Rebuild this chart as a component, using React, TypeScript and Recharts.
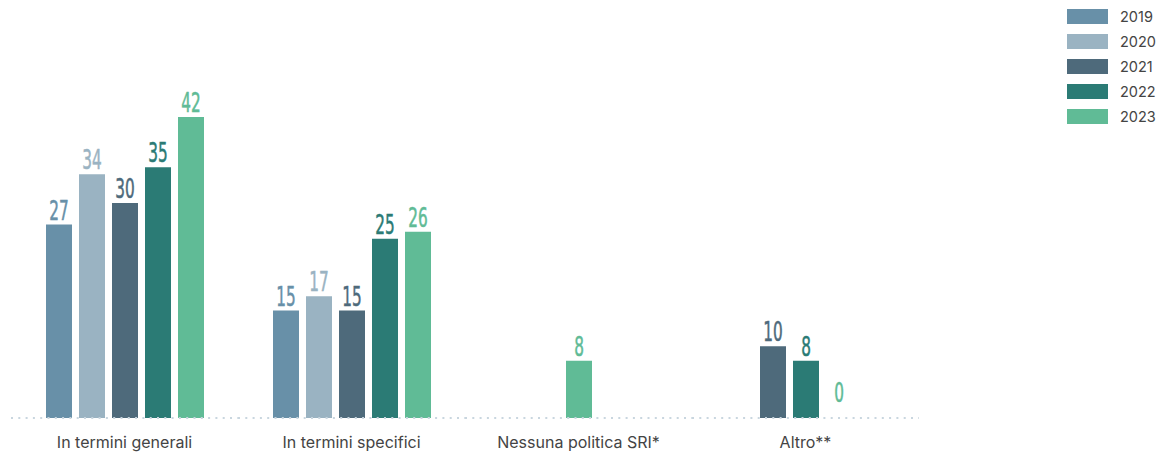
import { BarChart, Bar, XAxis, YAxis, LabelList } from 'recharts';

const categories = ['In termini generali', 'In termini specifici', 'Nessuna politica SRI*', 'Altro**'];
const years = ['2019', '2020', '2021', '2022', '2023'];

// null = no bar drawn for that year in that category
const values2019 = [27, 15, null, null];
const values2020 = [34, 17, null, null];
const values2021 = [30, 15, null, 10];
const values2022 = [35, 25, null, 8];
const values2023 = [42, 26, 8, 0];

const colors = ['#6890a8', '#9ab3c2', '#4e6a7b', '#2b7b75', '#60bb96'];

const series = years.map((year, i) => ({
  key: year,
  values: [values2019, values2020, values2021, values2022, values2023][i],
  color: colors[i],
}));

const maxValue = Math.max(...series.flatMap((s) => s.values.filter((v) => v !== null) as number[]));

const ValueLabel = (props: any) => {
  const { x, y, width, height, value, color } = props;
  const cx = Number(x) + Number(width) / 2;
  // zero bars get their label lifted a bit, like the original
  const lift = Math.abs(Number(height)) < 1 ? 16 : 5;
  return (
    <text
      transform={`translate(${cx} ${Number(y) - lift}) scale(0.63 1)`}
      textAnchor="middle"
      fill={color}
      stroke={color}
      strokeWidth={0.5}
      fontSize={27}
      fontFamily="'DejaVu Sans Condensed', 'Liberation Sans Narrow', sans-serif"
    >
      {value}
    </text>
  );
};

const GroupChart = ({ index }: { index: number }) => {
  const present = series.filter((s) => s.values[index] !== null);
  const row: Record<string, any> = { name: categories[index] };
  present.forEach((s) => {
    row[s.key] = s.values[index];
  });

  return (
    <BarChart
      width={227}
      height={455}
      data={[row]}
      margin={{ top: 117, right: 0, bottom: 0, left: 0 }}
      barGap={7}
      barSize={26}
    >
      <XAxis
        dataKey="name"
        interval={0}
        height={37}
        tickLine={false}
        tickSize={0}
        tickMargin={19}
        axisLine={{ stroke: '#c9d6df', strokeWidth: 2, strokeDasharray: '2 5.3' }}
        tick={{ fill: '#444', fontSize: 16, fontFamily: 'Inter, sans-serif' }}
      />
      <YAxis hide domain={[0, maxValue]} />
      {present.map((s) => (
        <Bar key={s.key} dataKey={s.key} fill={s.color} minPointSize={0.01} isAnimationActive={false}>
          <LabelList dataKey={s.key} content={(p: any) => <ValueLabel {...p} color={s.color} />} />
        </Bar>
      ))}
    </BarChart>
  );
};

const Legend = () => (
  <div style={{ position: 'absolute', left: 1067, top: 9, fontFamily: 'Inter, sans-serif' }}>
    {series.map((s) => (
      <div key={s.key} style={{ display: 'flex', alignItems: 'center', height: 25 }}>
        <div style={{ width: 41, height: 15, background: s.color, marginTop: -10 }} />
        <span style={{ marginLeft: 12, fontSize: 14.5, color: '#444', marginTop: -10 }}>{s.key}</span>
      </div>
    ))}
  </div>
);

export default function App() {
  return (
    <div style={{ position: 'absolute', left: 0, top: 0, width: 1176, height: 455, background: '#fff' }}>
      <div style={{ position: 'absolute', left: 11, top: 0, display: 'flex' }}>
        {categories.map((_, i) => (
          <GroupChart key={i} index={i} />
        ))}
      </div>
      <Legend />
    </div>
  );
}
